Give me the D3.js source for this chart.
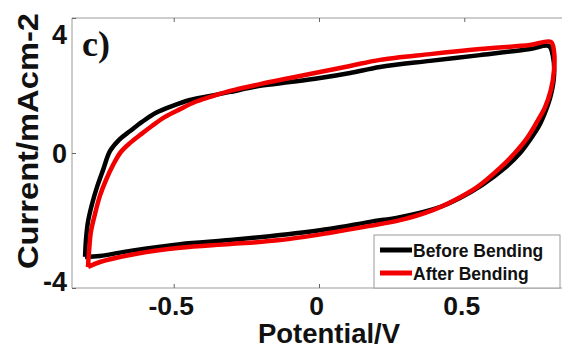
<!DOCTYPE html>
<html><head><meta charset="utf-8">
<script src="https://cdn.jsdelivr.net/npm/d3@7"></script>
<style>
html,body{margin:0;padding:0;background:#fff;overflow:hidden;}
svg{display:block;}
text{font-family:"Liberation Sans",Arial,sans-serif;font-weight:bold;fill:#111;}
</style></head>
<body>
<svg id="c" width="562" height="348"></svg>
<script>
// Potential (V) and current (mA cm^-2), one loop per series
const beforeV = [-0.805,-0.802,-0.795,-0.781,-0.764,-0.743,-0.719,-0.688,-0.650,-0.609,-0.561,-0.506,-0.444,-0.375,-0.306,-0.203,-0.100,0.003,0.107,0.210,0.382,0.554,0.726,0.791,
                 0.805,0.809,0.798,0.781,0.757,0.726,0.692,0.640,0.561,0.485,0.416,0.279,0.175,0.034,-0.134,-0.306,-0.478,-0.650,-0.754,-0.805];
const beforeI = [-3.08,-2.58,-2.04,-1.51,-1.01,-0.50,0.06,0.39,0.65,0.92,1.19,1.39,1.57,1.69,1.81,1.99,2.10,2.22,2.37,2.55,2.73,2.90,3.08,3.17,
                 2.87,2.31,1.72,1.27,0.80,0.39,0.00,-0.44,-0.95,-1.33,-1.60,-1.90,-2.04,-2.25,-2.43,-2.58,-2.70,-2.90,-3.05,-3.08];
const afterV  = [-0.795,-0.791,-0.785,-0.771,-0.754,-0.733,-0.709,-0.682,-0.650,-0.612,-0.575,-0.530,-0.478,-0.427,-0.375,-0.306,-0.203,-0.100,0.003,0.107,0.210,0.382,0.554,0.726,0.798,
                 0.809,0.809,0.798,0.778,0.750,0.716,0.674,0.623,0.544,0.468,0.392,0.279,0.175,0.034,-0.134,-0.306,-0.478,-0.650,-0.754,-0.795];
const afterI  = [-3.38,-2.87,-2.34,-1.81,-1.27,-0.80,-0.36,0.03,0.30,0.56,0.80,1.07,1.30,1.51,1.66,1.84,2.04,2.22,2.40,2.58,2.76,2.93,3.08,3.20,3.29,
                 2.99,2.46,1.87,1.36,0.92,0.44,0.00,-0.44,-1.01,-1.39,-1.69,-1.99,-2.16,-2.37,-2.58,-2.70,-2.81,-3.02,-3.23,-3.38];
const seriesNames = ["Before Bending","After Bending"];
const seriesColors = ["#000000","#f20000"];
const xTicks = [-0.5, 0, 0.5];
const yTicks = [-4, 0, 4];
const xTitle = "Potential/V";
const yTitle = "Current/mAcm-2";
const panelLabel = "c)";

const svg = d3.select("#c");
const L = 72, T = 18, B = 288, R = 566;
const x = d3.scaleLinear().domain([-0.85, 0.85]).range([L, R]);
const y = d3.scaleLinear().domain([-4, 4]).range([B, T]);

const axisColor = "#9a9a9a";
svg.append("line").attr("x1",L).attr("x2",R).attr("y1",T).attr("y2",T).attr("stroke",axisColor);
svg.append("line").attr("x1",L).attr("x2",R).attr("y1",B).attr("y2",B).attr("stroke",axisColor);
svg.append("line").attr("x1",L).attr("x2",L).attr("y1",T).attr("y2",B).attr("stroke",axisColor);

const fmt = d => String(d);
const gx = svg.append("g").attr("transform",`translate(0,${B})`)
  .call(d3.axisBottom(x).tickValues(xTicks).tickSize(-4).tickFormat(fmt));
const gxTop = svg.append("g").attr("transform",`translate(0,${T})`)
  .call(d3.axisTop(x).tickValues(xTicks).tickSize(-4).tickFormat(""));
const gy = svg.append("g").attr("transform",`translate(${L},0)`)
  .call(d3.axisLeft(y).tickValues(yTicks).tickSize(-4).tickPadding(5).tickFormat(fmt));
[gx,gxTop,gy].forEach(g=>{ g.select(".domain").remove(); g.selectAll("line").attr("stroke","#666"); });
gx.selectAll("text").attr("font-size",26.5).attr("font-family","Liberation Sans, Arial").attr("font-weight","bold").attr("fill","#111")
  .attr("dx",-3).attr("dy","0.71em").attr("y",8);
gy.selectAll("text").attr("font-size",27).attr("font-family","Liberation Sans, Arial").attr("font-weight","bold").attr("fill","#111")
  .attr("dy",d=> d===4 ? "0.95em" : (d===-4 ? "0.1em" : "0.36em"));

svg.append("text").attr("x",x(0)+10).attr("y",343).attr("text-anchor","middle").attr("font-size",27.5).text(xTitle);
svg.append("text").attr("transform",`translate(38,${(T+B)/2-12}) rotate(-90)`).attr("text-anchor","middle")
  .attr("font-size",30).attr("textLength",256).attr("lengthAdjust","spacingAndGlyphs").text(yTitle);
svg.append("text").attr("x",82).attr("y",56).attr("font-size",36)
  .style("font-family","'Liberation Serif','Times New Roman',serif").text(panelLabel);

const line = d3.line().x(d=>x(d[0])).y(d=>y(d[1])).curve(d3.curveCatmullRom.alpha(0.5));
const data = [d3.zip(beforeV, beforeI), d3.zip(afterV, afterI)];
data.forEach((pts,i)=>{
  svg.append("path").datum(pts).attr("d",line).attr("fill","none")
    .attr("stroke",seriesColors[i]).attr("stroke-width",4.5).attr("stroke-linejoin","round");
});

const lg = svg.append("g");
lg.append("rect").attr("x",374).attr("y",235).attr("width",186).attr("height",53)
  .attr("fill","#fff").attr("stroke",axisColor);
seriesNames.forEach((n,i)=>{
  const yy = 250 + i*23;
  lg.append("line").attr("x1",380).attr("x2",412).attr("y1",yy).attr("y2",yy)
    .attr("stroke",seriesColors[i]).attr("stroke-width",5);
  lg.append("text").attr("x",413).attr("y",yy+7).attr("font-size",17.5).text(n);
});
</script>
</body></html>
